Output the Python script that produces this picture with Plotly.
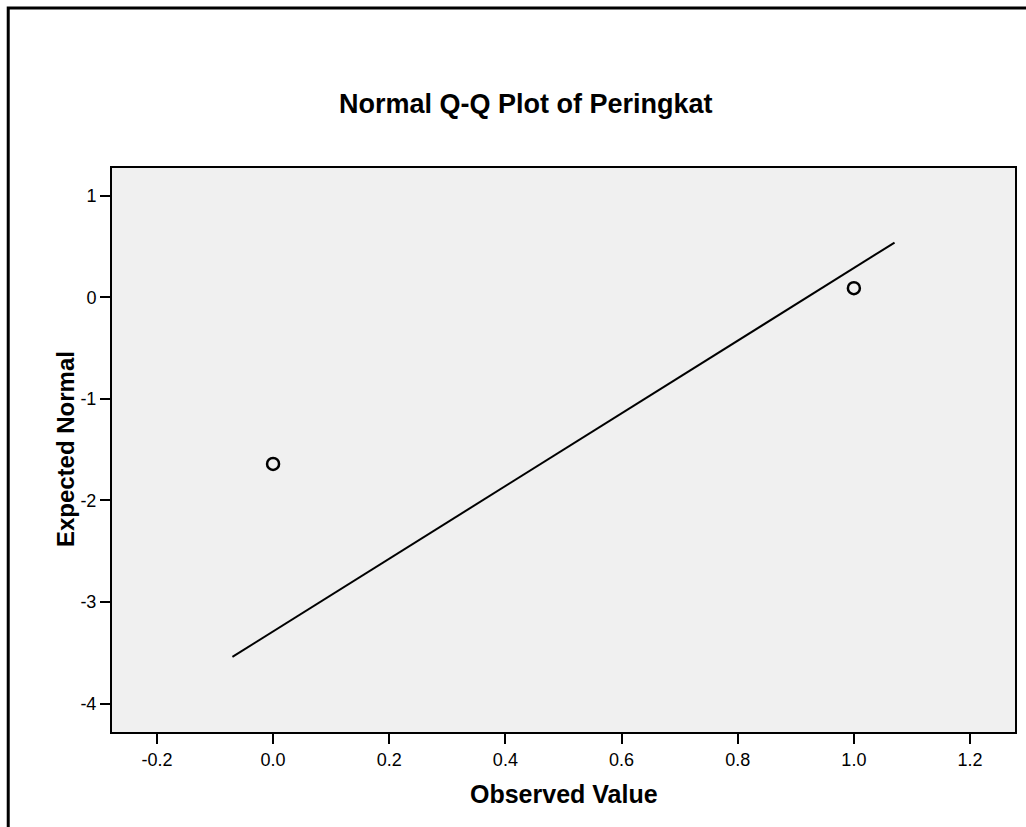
import plotly.graph_objects as go

# Data
observed = [0.0, 1.0]
expected = [-1.64, 0.09]
line_x = [-0.07, 1.07]
line_y = [-3.54, 0.54]
x_ticks = [-0.2, 0.0, 0.2, 0.4, 0.6, 0.8, 1.0, 1.2]
x_ticklabels = ["-0.2", "0.0", "0.2", "0.4", "0.6", "0.8", "1.0", "1.2"]
y_ticks = [-4, -3, -2, -1, 0, 1]
y_ticklabels = ["-4", "-3", "-2", "-1", "0", "1"]

W, H = 1026, 827
L, R, T, B = 112, 1017, 168, 732

def px(x):
    return (x - L) / (R - L)

def py(y):
    return (B - y) / (B - T)

fig = go.Figure()
fig.add_trace(go.Scatter(x=line_x, y=line_y, mode="lines",
                         line=dict(color="black", width=2), showlegend=False,
                         hoverinfo="skip"))
fig.add_trace(go.Scatter(x=observed, y=expected, mode="markers",
                         marker=dict(symbol="circle-open", size=12, color="black",
                                     line=dict(width=2.5, color="black")),
                         showlegend=False))

font = "Liberation Sans, Arial, sans-serif"
fig.update_layout(
    width=W, height=H,
    margin=dict(l=L, r=W - R, t=T, b=H - B, pad=0),
    paper_bgcolor="white",
    plot_bgcolor="#f0f0f0",
    font=dict(family=font, color="black", size=18),
    xaxis=dict(range=[-0.2773, 1.2774], tickvals=x_ticks, ticktext=x_ticklabels,
               ticks="outside", ticklen=10, tickwidth=2, tickcolor="black",
               showline=True, linecolor="black", linewidth=2, mirror=True,
               showgrid=False, zeroline=False, tickfont=dict(size=18)),
    yaxis=dict(range=[-4.28, 1.274], tickvals=y_ticks, ticktext=y_ticklabels,
               ticks="outside", ticklen=10, tickwidth=2, tickcolor="black",
               showline=True, linecolor="black", linewidth=2, mirror=True,
               showgrid=False, zeroline=False, tickfont=dict(size=18)),
    shapes=[dict(type="rect", xref="paper", yref="paper",
                 x0=px(8), x1=px(1040), y0=py(840), y1=py(8),
                 line=dict(color="black", width=3), fillcolor="rgba(0,0,0,0)")],
    annotations=[
        dict(text="<b>Normal Q-Q Plot of Peringkat</b>", xref="paper", yref="paper",
             x=px(527), y=py(104), xanchor="center", yanchor="middle",
             showarrow=False, font=dict(size=27, family=font)),
        dict(text="<b>Observed Value</b>", xref="paper", yref="paper",
             x=px(564.5), y=py(794), xanchor="center", yanchor="middle",
             showarrow=False, font=dict(size=25, family=font)),
        dict(text="<b>Expected Normal</b>", xref="paper", yref="paper",
             x=px(65), y=py(449), xanchor="center", yanchor="middle", textangle=-90,
             showarrow=False, font=dict(size=24, family=font)),
    ],
)

fig.write_html("out.html")
